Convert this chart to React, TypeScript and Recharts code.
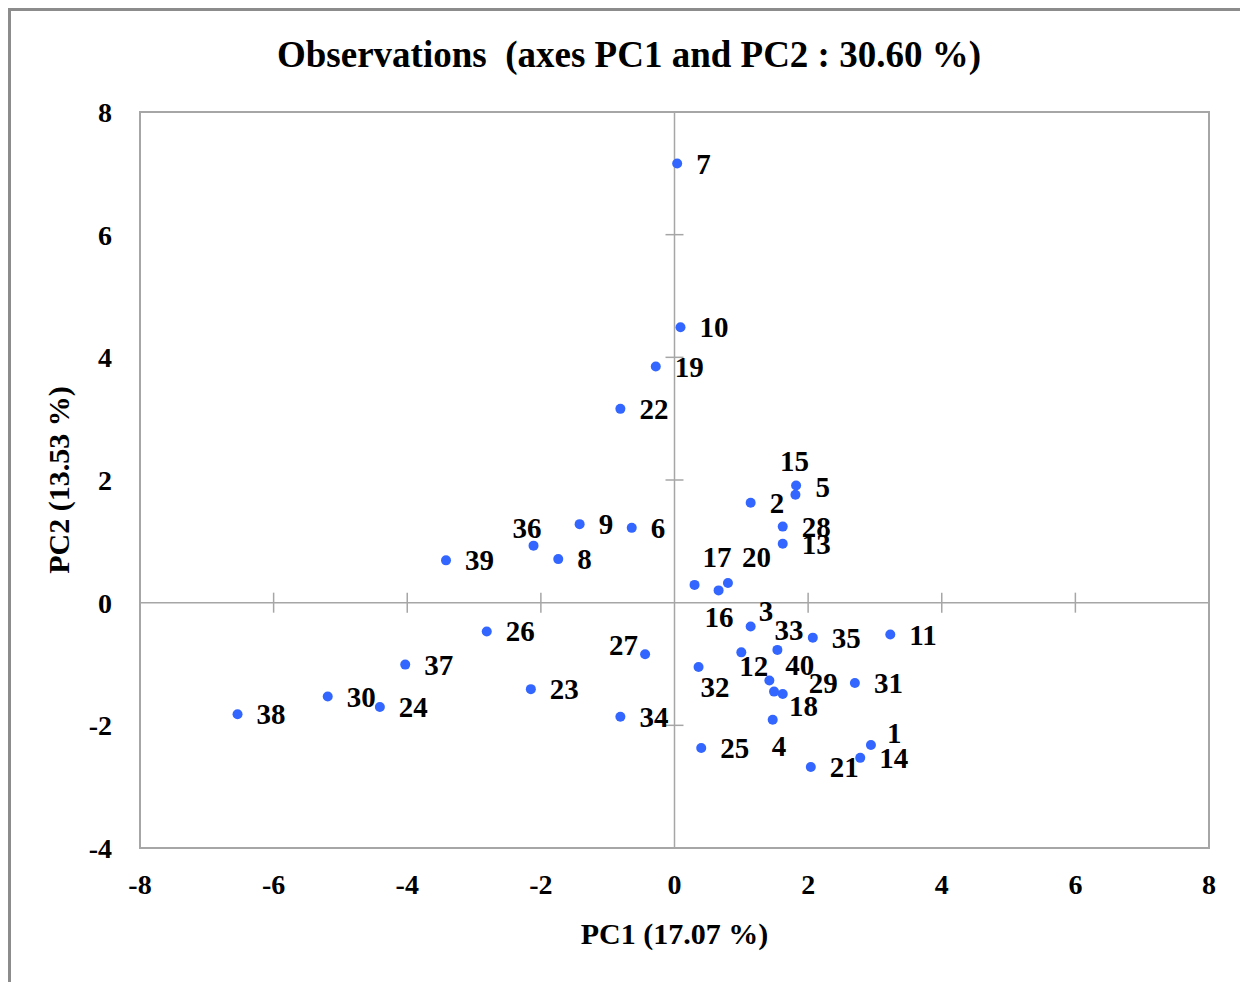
import React from "react";
import {
  ScatterChart,
  Scatter,
  XAxis,
  YAxis,
  ReferenceLine,
  ReferenceArea,
  Label,
} from "recharts";

const obsIds = [
  "1", "2", "3", "4", "5", "6", "7", "8", "9", "10",
  "11", "12", "13", "14", "15", "16", "17", "18", "19", "20",
  "21", "22", "23", "24", "25", "26", "27", "28", "29", "30",
  "31", "32", "33", "34", "35", "36", "37", "38", "39", "40",
];
const pc1 = [
  2.94, 1.14, 1.14, 1.47, 1.81, -0.64, 0.04, -1.74, -1.42, 0.09,
  3.23, 1.0, 1.62, 2.78, 1.82, 0.66, 0.3, 1.49, -0.28, 0.8,
  2.04, -0.81, -2.15, -4.41, 0.4, -2.81, -0.44, 1.62, 1.62, -5.19,
  2.7, 0.36, 1.54, -0.81, 2.07, -2.11, -4.03, -6.54, -3.42, 1.42,
];
const pc2 = [
  -2.32, 1.63, -0.39, -1.91, 1.76, 1.22, 7.16, 0.71, 1.28, 4.49,
  -0.52, -0.81, 0.96, -2.53, 1.91, 0.2, 0.29, -1.45, 3.85, 0.32,
  -2.68, 3.16, -1.41, -1.7, -2.37, -0.47, -0.84, 1.24, -1.49, -1.53,
  -1.31, -1.05, -0.77, -1.86, -0.57, 0.93, -1.01, -1.82, 0.69, -1.27,
];

const xTicks = [-8, -6, -4, -2, 0, 2, 4, 6, 8];
const yTicks = [-4, -2, 0, 2, 4, 6, 8];

const data = obsIds.map((id, i) => ({ id, x: pc1[i], y: pc2[i] }));

// label placement (start offset, baseline offset) where the default would collide
const labelNudge: Record<string, [number, number]> = {
  "15": [-16, -15],
  "5": [20, 2],
  "3": [8, -6],
  "33": [-3, -10],
  "12": [-2, 24],
  "32": [2, 30],
  "4": [-1, 36],
  "1": [16, -2],
  "27": [-36, 1],
  "36": [-21, -8],
  "16": [-14, 37],
  "17": [8, -18],
  "20": [14, -16],
  "40": [16, -6],
  "29": [26, -1],
  "18": [15, 24],
};

const FONT = "'Liberation Serif', 'Times New Roman', serif";
const AXIS_GRAY = "#a6a6a6";
const DOT = "#3366ff";

const W = 1230;
const H = 966;

// tick half-lengths in data units (about 9-10px)
const X_TICK_HALF = 10 / 61.3;
const Y_TICK_HALF = 9 / 66.8;

const tickStyle = { fill: "#000", fontSize: 28, fontWeight: "bold", fontFamily: FONT };

function PointShape(props: any) {
  const { cx, cy, payload } = props;
  const [dx, dy] = labelNudge[payload.id] ?? [19, 10];
  return (
    <g>
      <circle cx={cx} cy={cy} r={5} fill={DOT} />
      <text
        x={cx + dx}
        y={cy + dy}
        fontFamily={FONT}
        fontWeight="bold"
        fontSize={29}
        fill="#000"
      >
        {payload.id}
      </text>
    </g>
  );
}

export default function App() {
  return (
    <div
      style={{
        position: "relative",
        width: 1233,
        height: 990,
        borderTop: "3px solid #8c8c8c",
        borderLeft: "3px solid #8c8c8c",
        borderRight: "3px solid #8c8c8c",
        background: "#fff",
        fontFamily: FONT,
      }}
    >
      <div
        style={{
          position: "absolute",
          top: 22,
          left: 0,
          width: 1236,
          textAlign: "center",
          fontWeight: "bold",
          fontSize: 37,
          fontFamily: FONT,
          color: "#000",
        }}
      >
        Observations&nbsp; (axes PC1 and PC2 : 30.60 %)
      </div>
      <div style={{ position: "absolute", top: 0, left: 0 }}>
        <ScatterChart
          width={W}
          height={H}
          margin={{ top: 101, right: 32, bottom: 69, left: 69 }}
        >
          <XAxis
            type="number"
            dataKey="x"
            domain={[-8, 8]}
            ticks={xTicks}
            height={60}
            axisLine={false}
            tickLine={false}
            tickSize={6}
            tickMargin={20}
            tick={tickStyle}
          >
            <Label
              value="PC1 (17.07 %)"
              position="insideBottom"
              offset={-36}
              style={{ fill: "#000", fontSize: 30, fontWeight: "bold", fontFamily: FONT }}
            />
          </XAxis>
          <YAxis
            type="number"
            dataKey="y"
            domain={[-4, 8]}
            ticks={yTicks}
            width={60}
            axisLine={false}
            tickLine={false}
            tickSize={6}
            tickMargin={22}
            tick={tickStyle}
          >
            <Label
              value="PC2 (13.53 %)"
              angle={-90}
              position="insideLeft"
              offset={-22}
              style={{
                fill: "#000",
                fontSize: 30,
                fontWeight: "bold",
                fontFamily: FONT,
                textAnchor: "middle",
              }}
            />
          </YAxis>
          {/* plot frame */}
          <ReferenceArea
            x1={-8}
            x2={8}
            y1={-4}
            y2={8}
            fill="none"
            stroke={AXIS_GRAY}
            strokeWidth={2}
            ifOverflow="visible"
          />
          <ReferenceLine x={0} stroke={AXIS_GRAY} strokeWidth={1.5} />
          <ReferenceLine y={0} stroke={AXIS_GRAY} strokeWidth={1.5} />
          {xTicks
            .filter((t) => t !== 0 && Math.abs(t) !== 8)
            .map((t) => (
              <ReferenceLine
                key={`xt${t}`}
                segment={[
                  { x: t, y: -X_TICK_HALF },
                  { x: t, y: X_TICK_HALF },
                ]}
                stroke={AXIS_GRAY}
                strokeWidth={1.5}
              />
            ))}
          {yTicks
            .filter((t) => t !== 0 && t !== 8 && t !== -4)
            .map((t) => (
              <ReferenceLine
                key={`yt${t}`}
                segment={[
                  { x: -Y_TICK_HALF, y: t },
                  { x: Y_TICK_HALF, y: t },
                ]}
                stroke={AXIS_GRAY}
                strokeWidth={1.5}
              />
            ))}
          <Scatter data={data} shape={PointShape} isAnimationActive={false} />
        </ScatterChart>
      </div>
    </div>
  );
}
